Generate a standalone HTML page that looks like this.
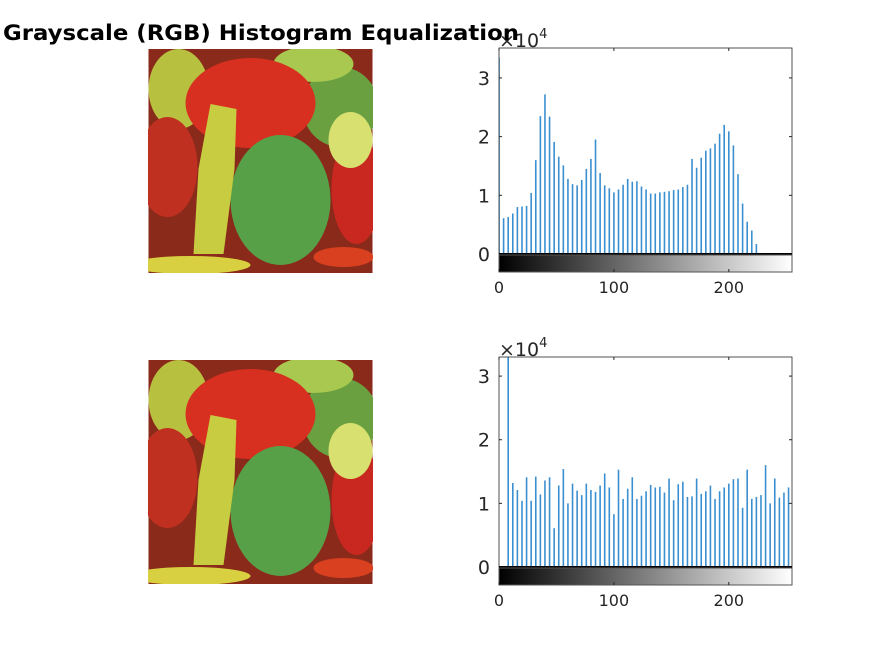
<!DOCTYPE html>
<html><head><meta charset="utf-8"><style>
body{margin:0;background:#fff;width:875px;height:656px;overflow:hidden;font-family:"DejaVu Sans","Liberation Sans",sans-serif;}
</style></head><body>
<svg id="fig" width="875" height="656" xmlns="http://www.w3.org/2000/svg" font-family="DejaVu Sans, Liberation Sans, sans-serif">
<defs>
<symbol id="pep" viewBox="0 0 224 224">
<rect width="224" height="224" fill="#8a2a1a"/>
<ellipse cx="30" cy="40" rx="30" ry="40" fill="#b8c040"/>
<ellipse cx="192" cy="58" rx="38" ry="40" fill="#6aa040"/>
<ellipse cx="165" cy="15" rx="40" ry="18" fill="#a8c850"/>
<ellipse cx="19" cy="118" rx="30" ry="50" fill="#c03020"/>
<ellipse cx="102" cy="54" rx="65" ry="45" fill="#d83020"/>
<ellipse cx="208" cy="140" rx="25" ry="55" fill="#c82820"/>
<ellipse cx="202" cy="91" rx="22" ry="28" fill="#d8e070"/>
<ellipse cx="132" cy="151" rx="50" ry="65" fill="#58a048"/>
<polygon points="62,55 88,60 86,120 75,205 45,205 50,120" fill="#c8cc40"/>
<ellipse cx="42" cy="216" rx="60" ry="9" fill="#d8d040"/>
<ellipse cx="195" cy="208" rx="30" ry="10" fill="#d84020"/>
</symbol>
<linearGradient id="gray" x1="0" x2="1" y1="0" y2="0"><stop offset="0" stop-color="#000"/><stop offset="1" stop-color="#fff"/></linearGradient>
</defs>
<use href="#pep" x="148" y="49" width="225" height="224"/>
<use href="#pep" x="148" y="360" width="225" height="224"/>
<g id="h1"></g>
<g id="h2"></g>
<text x="3" y="40" font-size="21" font-weight="bold" fill="#000" textLength="516" lengthAdjust="spacingAndGlyphs">Grayscale (RGB) Histogram Equalization</text>
</svg>
<script>
const binsTop = [0,4,8,12,16,20,24,28,32,36,40,44,48,52,56,60,64,68,72,76,80,84,88,92,96,100,104,108,112,116,120,124,128,132,136,140,144,148,152,156,160,164,168,172,176,180,184,188,192,196,200,204,208,212,216,220,224,228];
const countsTop = [3.35,0.61,0.63,0.69,0.8,0.81,0.82,1.04,1.6,2.35,2.72,2.34,1.91,1.66,1.51,1.28,1.19,1.17,1.26,1.45,1.62,1.95,1.38,1.17,1.12,1.05,1.1,1.18,1.28,1.23,1.24,1.15,1.1,1.03,1.03,1.05,1.06,1.07,1.09,1.1,1.14,1.18,1.62,1.47,1.64,1.76,1.8,1.88,2.05,2.2,2.09,1.85,1.36,0.86,0.55,0.4,0.17,0.01];
const binsBot = [8,12,16,20,24,28,32,36,40,44,48,52,56,60,64,68,72,76,80,84,88,92,96,100,104,108,112,116,120,124,128,132,136,140,144,148,152,156,160,164,168,172,176,180,184,188,192,196,200,204,208,212,216,220,224,228,232,236,240,244,248,252];
const countsBot = [3.4,1.32,1.21,1.04,1.41,1.04,1.42,1.14,1.36,1.41,0.61,1.28,1.54,1.0,1.31,1.2,1.13,1.31,1.21,1.18,1.28,1.47,1.25,0.83,1.53,1.07,1.23,1.41,1.07,1.12,1.19,1.29,1.25,1.26,1.17,1.39,1.05,1.3,1.34,1.1,1.11,1.39,1.15,1.19,1.28,1.07,1.19,1.25,1.31,1.38,1.39,0.93,1.53,1.07,1.1,1.13,1.6,1.0,1.39,1.09,1.17,1.25];
const xTicks = [0,100,200];
const yTicks = [0,1,2,3];
const NS="http://www.w3.org/2000/svg";
function mk(tag,attrs,parent){const e=document.createElementNS(NS,tag);for(const k in attrs)e.setAttribute(k,attrs[k]);parent.appendChild(e);return e;}
function hist(g,bins,counts,top,zero,ymax){
  const L=499,R=792,cb=18;
  const xs=v=>L+v/255*(R-L);
  const ys=v=>zero-v/ymax*(zero-top);
  const clip=mk('clipPath',{id:g.id+'c'},g);mk('rect',{x:L,y:top,width:R-L,height:zero-top},clip);
  const bars=mk('g',{'clip-path':'url(#'+g.id+'c)'},g);
  bins.forEach((b,i)=>{const l=mk('line',{x1:xs(b),x2:xs(b),y1:zero,y2:ys(counts[i]),stroke:'#3a8fd0','stroke-width':1.6},bars);
  
  });
  const box=mk('rect',{x:L,y:top,width:R-L,height:zero-top,fill:'none',stroke:'#262626','stroke-width':0.8},g);
  
  mk('line',{x1:L,x2:R,y1:zero,y2:zero,stroke:'#000','stroke-width':2},g);
  const cbr=mk('rect',{x:L,y:zero+1,width:R-L,height:cb-1,fill:'url(#gray)',stroke:'#555','stroke-width':1},g);
  
  xTicks.forEach(t=>{mk('line',{x1:xs(t),x2:xs(t),y1:top,y2:top+3,stroke:'#262626'},g);
    mk('line',{x1:xs(t),x2:xs(t),y1:zero+cb,y2:zero+cb-3,stroke:'#262626'},g);
    const tx=mk('text',{x:xs(t),y:zero+cb+21,'font-size':16,'text-anchor':'middle',fill:'#262626'},g);tx.textContent=t;
    });
  yTicks.forEach(t=>{const y=ys(t);if(t>0){mk('line',{x1:L,x2:L+3,y1:y,y2:y,stroke:'#262626'},g);mk('line',{x1:R,x2:R-3,y1:y,y2:y,stroke:'#262626'},g);}
    const tx=mk('text',{x:L-9,y:y+7,'font-size':19,'text-anchor':'end',fill:'#262626'},g);tx.textContent=t;
    });
  const ex=mk('text',{x:L,y:top-1,'font-size':19,fill:'#262626'},g);ex.innerHTML='×10<tspan font-size="13" dy="-9">4</tspan>';
  
}
hist(document.getElementById('h1'),binsTop,countsTop,48,254,3.51);
hist(document.getElementById('h2'),binsBot,countsBot,357,567,3.3);
</script>
</body></html>
